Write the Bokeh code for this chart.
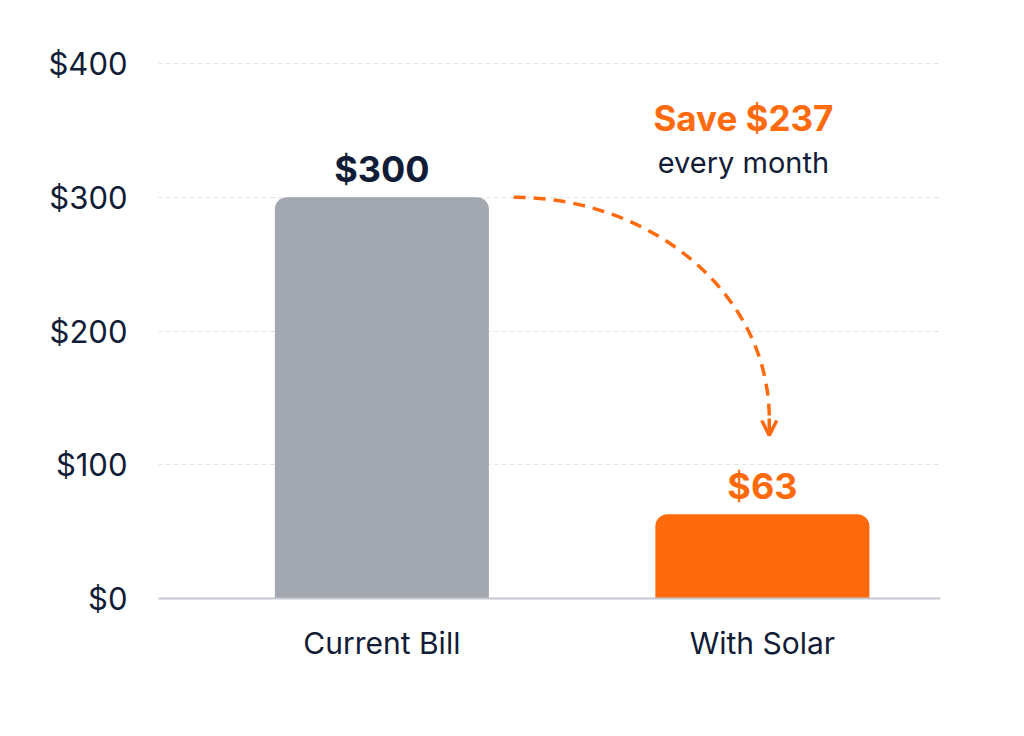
from bokeh.plotting import figure
from bokeh.models import Range1d, NumeralTickFormatter, Arrow, OpenHead, ColumnDataSource
from bokeh.core.properties import value
from bokeh.embed import file_html
from bokeh.resources import INLINE

# data
categories = ["Current Bill", "With Solar"]
bills = [300, 63]
bar_labels = ["$300", "$63"]
y_ticks = [0, 100, 200, 300, 400]

savings = bills[0] - bills[1]

NAVY = "#111c36"
ORANGE = "#ff6a0d"
GRAY = "#a2a7b0"
FONT = "Inter"

xs = list(range(len(categories)))
bar_w = 0.5625

src = ColumnDataSource(data=dict(
    x=xs, top=bills, label=bar_labels,
    fill=[GRAY, ORANGE], txt=[NAVY, ORANGE],
))

p = figure(frame_width=782, frame_height=568,
           min_border_left=158, min_border_right=60,
           min_border_top=30, min_border_bottom=120,
           x_range=Range1d(-0.587, 1.468), y_range=Range1d(0, 424.7),
           output_backend="svg", toolbar_location=None)

p.outline_line_color = None
p.background_fill_color = "white"
p.border_fill_color = "white"

# bars
p.vbar(x="x", top="top", width=bar_w, source=src, fill_color="fill",
       line_color=None, border_radius=(12, 12, 0, 0))

# value labels above bars
p.text(x="x", y="top", text="label", source=src, text_color="txt",
       text_align="center", text_baseline="alphabetic", y_offset=-28,
       text_font=value(FONT), text_font_style="bold", text_font_size="36px")

# savings callout
p.text(x=[xs[1]], y=[359], text=["Save $%d" % savings], x_offset=-19,
       text_align="center", text_baseline="alphabetic", text_color=ORANGE,
       text_font=value(FONT), text_font_style="bold", text_font_size="35px")
p.text(x=[xs[1]], y=[326], text=["every month"], x_offset=-19,
       text_align="center", text_baseline="alphabetic", text_color=NAVY,
       text_font=value(FONT), text_font_size="29px")

# curved dashed arrow from current bill down to solar bar
x_s = xs[0] + bar_w / 2 + 0.065
y_s = bills[0]
x_e = xs[1] + 0.018
y_e = 134.6
y_tip = 121.9
k = 0.552
p.bezier(x0=[x_s], y0=[y_s], x1=[x_e], y1=[y_e],
         cx0=[x_s + k * (x_e - x_s)], cy0=[y_s],
         cx1=[x_e], cy1=[y_e + k * (y_s - y_e)],
         line_color=ORANGE, line_width=3.5, line_dash="12 8")
p.add_layout(Arrow(end=OpenHead(size=15, line_color=ORANGE, line_width=3.5),
                   x_start=x_e, y_start=y_e, x_end=x_e, y_end=y_tip,
                   line_color=ORANGE, line_width=3.5))

# axes
p.xgrid.grid_line_color = None
p.ygrid.grid_line_color = "#dde0e6"
p.ygrid.grid_line_dash = "4 4"
p.ygrid.grid_line_width = 1

p.yaxis.ticker = y_ticks
p.yaxis.formatter = NumeralTickFormatter(format="$0")
p.yaxis.axis_line_color = None
p.yaxis.major_tick_line_color = None
p.yaxis.minor_tick_line_color = None
p.yaxis.major_label_standoff = 25
p.yaxis.major_label_text_font = FONT
p.yaxis.major_label_text_font_size = "31px"
p.yaxis.major_label_text_color = NAVY

p.xaxis.ticker = xs
p.xaxis.major_label_overrides = {i: c for i, c in zip(xs, categories)}
p.xaxis.axis_line_color = "#c3c7cf"
p.xaxis.axis_line_width = 2
p.xaxis.major_tick_line_color = None
p.xaxis.minor_tick_line_color = None
p.xaxis.major_label_standoff = 20
p.xaxis.major_label_text_font = FONT
p.xaxis.major_label_text_font_size = "30px"
p.xaxis.major_label_text_color = NAVY

open("out.html", "w").write(file_html(p, INLINE))
